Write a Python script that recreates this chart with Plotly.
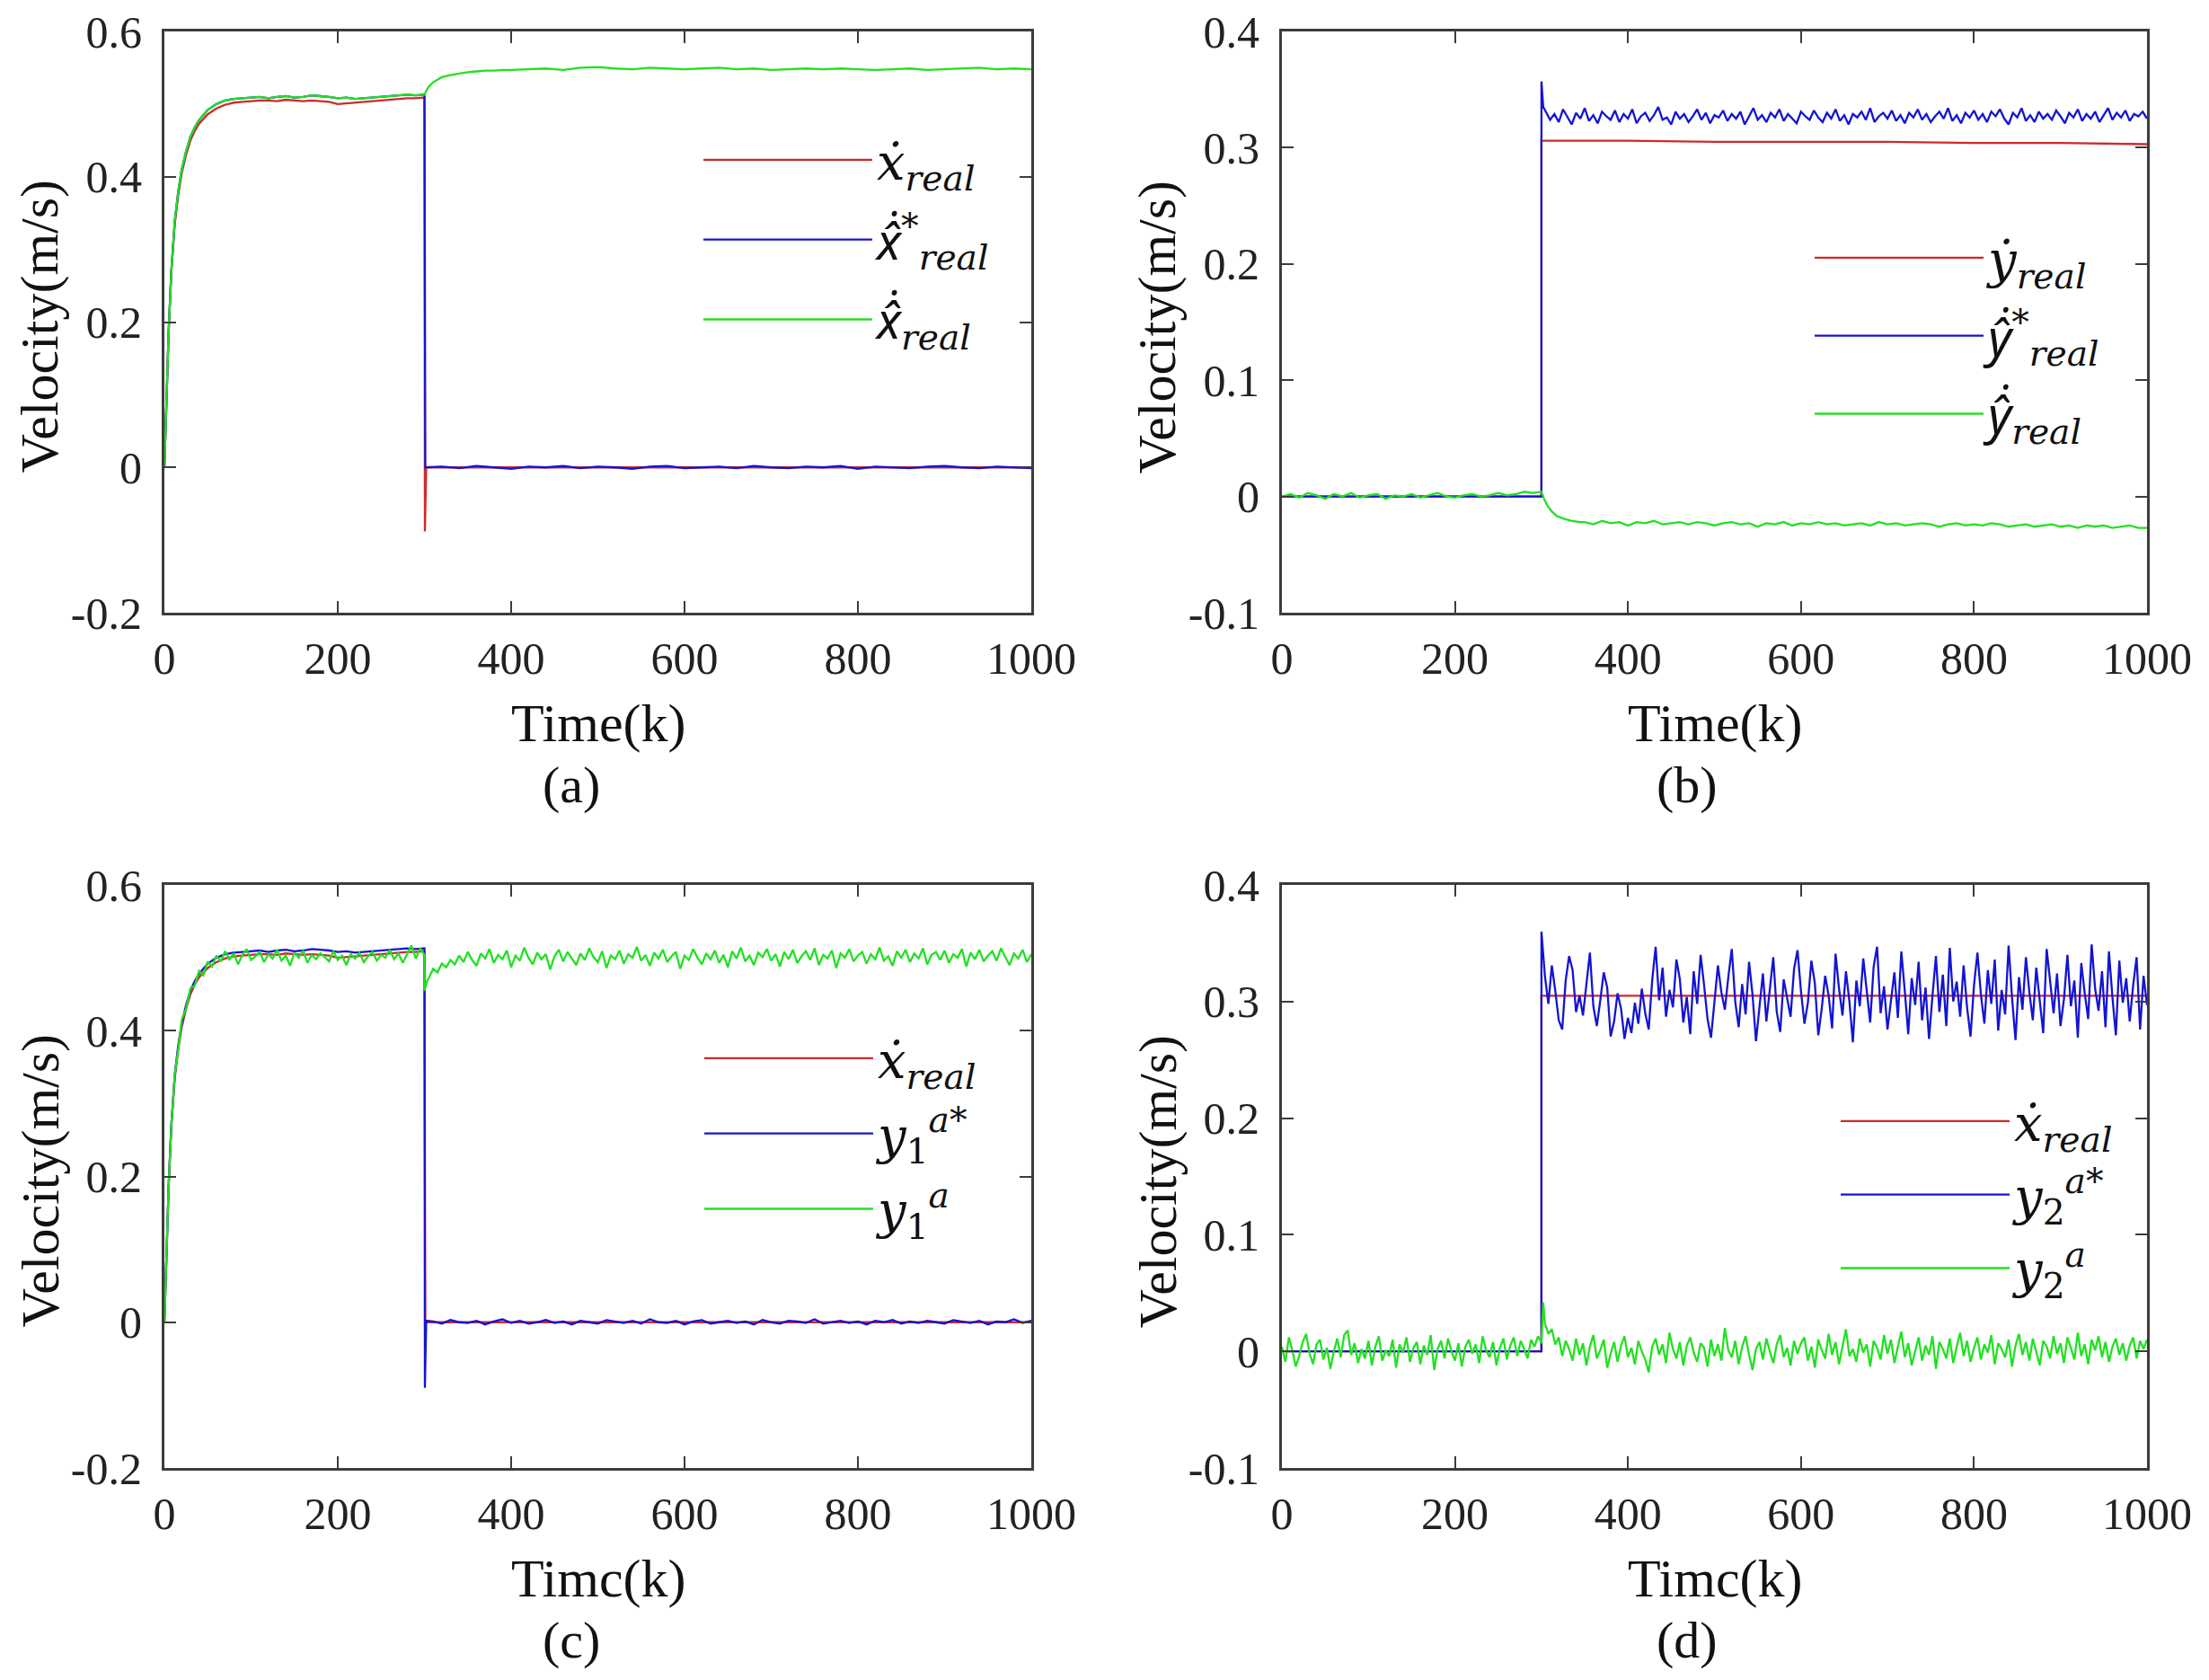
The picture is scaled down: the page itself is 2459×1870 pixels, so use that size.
import plotly.graph_objects as go

# ---------------- data ----------------
RED = "#d02a2a"
BLUE = "#1414d2"
GREEN = "#22e022"

# panel (a)/(c): start-up of the x velocity
A_T_RISE = [0, 2, 5, 8, 12, 16, 20, 25, 30, 35, 40, 50, 60, 70, 80]
A_GREEN_RISE = [0.0, 0.08, 0.19, 0.27, 0.34, 0.38, 0.41, 0.435, 0.455, 0.468, 0.478, 0.492, 0.500, 0.505, 0.507]
A_RED_RISE = [0.0, 0.08, 0.19, 0.27, 0.335, 0.375, 0.405, 0.43, 0.45, 0.463, 0.473, 0.486, 0.494, 0.499, 0.502]
A_T_PLAT = list(range(90, 301, 10))
A_GREEN_PLAT = [0.508, 0.509, 0.510, 0.508, 0.510, 0.511, 0.509, 0.510, 0.512, 0.511, 0.510,
                0.508, 0.509, 0.507, 0.508, 0.509, 0.510, 0.511, 0.512, 0.513, 0.512, 0.513]
A_RED_PLAT = [0.503, 0.504, 0.505, 0.505, 0.504, 0.506, 0.505, 0.504, 0.505, 0.504, 0.503,
              0.500, 0.501, 0.502, 0.503, 0.504, 0.505, 0.506, 0.507, 0.508, 0.508, 0.509]
A_T_GREEN_POST = [300, 302, 305, 310, 315, 320, 330, 340, 350, 360, 370, 380, 390, 400] + list(range(420, 1001, 20))
A_GREEN_POST = [0.513, 0.518, 0.524, 0.530, 0.534, 0.537, 0.540, 0.542, 0.544, 0.545, 0.546, 0.546, 0.547, 0.547,
                0.548, 0.549, 0.547, 0.550, 0.551, 0.549, 0.548, 0.550, 0.549, 0.548,
                0.549, 0.550, 0.548, 0.549, 0.547, 0.548, 0.549, 0.548, 0.549, 0.548,
                0.547, 0.548, 0.549, 0.547, 0.548, 0.549, 0.550, 0.548, 0.549, 0.548]
A_T_RED_POST = [300, 300.5, 302, 1000]
A_RED_POST = [0.509, -0.088, 0.0, 0.0]
A_T_BLUE_POST = [300, 301] + list(range(320, 1001, 20))
A_BLUE_POST = [0.513, 0.0,
               0.001, -0.001, 0.002, 0.000, -0.002, 0.001, 0.000, 0.002, -0.001, 0.001,
               0.000, -0.002, 0.001, 0.002, -0.001, 0.000, 0.001, -0.001, 0.002, 0.000,
               -0.001, 0.001, 0.000, 0.002, -0.002, 0.001, 0.000, -0.001, 0.001, 0.002,
               0.000, -0.001, 0.001, 0.000, -0.001]

# panel (b): y velocity
B_T_RED = [0, 300, 300, 400, 500, 600, 700, 800, 900, 1000]
B_RED = [0.0, 0.0, 0.306, 0.306, 0.305, 0.305, 0.305, 0.304, 0.304, 0.303]
B_T_BLUE = [0, 300, 300, 302] + list(range(305, 1001, 5))
B_BLUE = [0.0, 0.0, 0.357, 0.335,
          0.331, 0.324, 0.329, 0.322, 0.333, 0.326, 0.320, 0.330, 0.325, 0.334,
          0.323, 0.328, 0.321, 0.331, 0.327, 0.324, 0.332, 0.322, 0.329, 0.325,
          0.333, 0.321, 0.327, 0.330, 0.323, 0.328, 0.335, 0.324, 0.326, 0.320,
          0.331, 0.325, 0.329, 0.322, 0.327, 0.333, 0.324, 0.330, 0.321, 0.328,
          0.326, 0.332, 0.323, 0.329, 0.325, 0.331, 0.320, 0.327, 0.334, 0.324,
          0.328, 0.322, 0.330, 0.326, 0.333, 0.323, 0.329, 0.325, 0.321, 0.331,
          0.327, 0.324, 0.332, 0.326, 0.322, 0.330, 0.325, 0.333, 0.323, 0.328,
          0.320, 0.329, 0.326, 0.331, 0.324, 0.334, 0.322, 0.327, 0.330, 0.325,
          0.332, 0.323, 0.328, 0.321, 0.330, 0.326, 0.333, 0.324, 0.329, 0.322,
          0.327, 0.331, 0.325, 0.334, 0.323, 0.328, 0.321, 0.330, 0.326, 0.332,
          0.324, 0.329, 0.322, 0.331, 0.327, 0.333, 0.325, 0.320, 0.330, 0.326,
          0.334, 0.323, 0.328, 0.322, 0.331, 0.325, 0.329, 0.324, 0.332, 0.327,
          0.321, 0.330, 0.326, 0.333, 0.323, 0.329, 0.325, 0.331, 0.322, 0.328,
          0.334, 0.324, 0.330, 0.326, 0.332, 0.323, 0.329, 0.327, 0.331, 0.325]
B_T_GREEN = list(range(0, 301, 10)) + [303, 307, 312, 318, 325, 335, 345] + list(range(350, 1001, 10))
B_GREEN = [0.000, 0.002, -0.001, 0.003, 0.001, -0.002, 0.002, 0.000, 0.003, -0.001,
           0.001, 0.002, -0.002, 0.001, 0.000, 0.002, -0.001, 0.001, 0.003, 0.000,
           -0.001, 0.001, 0.002, 0.000, 0.001, 0.003, 0.001, 0.002, 0.004, 0.003, 0.004,
           -0.002, -0.008, -0.013, -0.017, -0.019, -0.021, -0.022,
           -0.022, -0.024, -0.021, -0.023, -0.022, -0.025, -0.022, -0.023, -0.021, -0.024,
           -0.023, -0.022, -0.024, -0.022, -0.023, -0.025, -0.023, -0.022, -0.024, -0.023,
           -0.026, -0.023, -0.024, -0.022, -0.025, -0.023, -0.024, -0.022, -0.024, -0.023,
           -0.025, -0.024, -0.023, -0.025, -0.022, -0.024, -0.023, -0.025, -0.024, -0.023,
           -0.024, -0.026, -0.024, -0.023, -0.025, -0.024, -0.025, -0.023, -0.024, -0.026,
           -0.025, -0.024, -0.026, -0.025, -0.024, -0.026, -0.025, -0.027, -0.025, -0.026,
           -0.025, -0.027, -0.026, -0.025, -0.027, -0.027]

# panel (c): attacked x channel
C_T_RED_POST = [300, 301, 1000]
C_RED_POST = [0.509, 0.0, 0.0]
C_T_BLUE_POST = [300, 300.5, 302] + list(range(310, 1001, 10))
C_BLUE_POST = [0.513, -0.09, 0.002,
               0.001, -0.002, 0.003, 0.000, -0.001, 0.002, -0.003, 0.001, 0.004, -0.001,
               0.002, -0.002, 0.000, 0.003, -0.001, 0.001, -0.003, 0.002, 0.000, -0.002,
               0.003, 0.001, -0.001, 0.002, -0.002, 0.004, 0.000, -0.001, 0.002, -0.003,
               0.001, 0.003, -0.002, 0.000, 0.002, -0.001, 0.001, -0.003, 0.003, 0.000,
               -0.002, 0.002, 0.001, -0.001, 0.004, -0.002, 0.000, 0.002, -0.001, 0.001,
               -0.003, 0.002, 0.000, 0.003, -0.002, 0.001, -0.001, 0.002, 0.000, -0.002,
               0.003, 0.001, -0.001, 0.002, -0.003, 0.001, 0.000, 0.004, -0.001, 0.002]
C_T_GREEN = [0, 2, 5, 8, 12, 16, 20, 25, 30, 35, 40, 45, 50, 55] + list(range(60, 301, 5)) + [300, 303] + list(range(305, 1001, 5))
C_GREEN = [0.0, 0.08, 0.19, 0.27, 0.34, 0.375, 0.415, 0.43, 0.458, 0.462, 0.482, 0.476, 0.495, 0.488,
           0.503, 0.495, 0.509, 0.498, 0.506, 0.491, 0.504, 0.512, 0.497, 0.502,
           0.508, 0.494, 0.505, 0.499, 0.511, 0.496, 0.503, 0.489, 0.507, 0.500,
           0.510, 0.493, 0.504, 0.498, 0.506, 0.501, 0.495, 0.509, 0.497, 0.503,
           0.490, 0.505, 0.499, 0.507, 0.494, 0.502, 0.508, 0.496, 0.504, 0.500,
           0.511, 0.498, 0.506, 0.493, 0.505, 0.517, 0.499, 0.513, 0.504,
           0.455, 0.468,
           0.472, 0.485, 0.480, 0.492, 0.487, 0.497, 0.491, 0.503, 0.494, 0.508,
           0.497, 0.489, 0.506, 0.499, 0.512, 0.493, 0.504, 0.498, 0.510, 0.487,
           0.503, 0.496, 0.514, 0.500, 0.491, 0.507, 0.498, 0.505, 0.484, 0.502,
           0.511, 0.495, 0.508, 0.499, 0.490, 0.506, 0.497, 0.513, 0.501, 0.494,
           0.509, 0.486, 0.503, 0.498, 0.510, 0.492, 0.505, 0.500, 0.515, 0.496,
           0.504, 0.489, 0.507, 0.499, 0.511, 0.494, 0.502, 0.508, 0.485, 0.503,
           0.497, 0.512, 0.500, 0.491, 0.506, 0.498, 0.510, 0.493, 0.504, 0.487,
           0.509, 0.499, 0.514, 0.495, 0.503, 0.490, 0.507, 0.501, 0.512, 0.496,
           0.505, 0.488, 0.508, 0.498, 0.511, 0.493, 0.502, 0.509, 0.497, 0.513,
           0.490, 0.504, 0.499, 0.510, 0.486, 0.506, 0.500, 0.512, 0.495, 0.503,
           0.508, 0.492, 0.505, 0.498, 0.514, 0.496, 0.502, 0.489, 0.509, 0.500,
           0.511, 0.494, 0.506, 0.499, 0.513, 0.491, 0.504, 0.508, 0.497, 0.510,
           0.493, 0.505, 0.500, 0.512, 0.488, 0.507, 0.498, 0.511, 0.495, 0.503,
           0.509, 0.496, 0.513, 0.501, 0.490, 0.506, 0.499, 0.511, 0.494, 0.505]

# panel (d): attacked y channel
D_T_RED = [0, 300, 300, 1000]
D_RED = [0.0, 0.0, 0.305, 0.305]
D_T_BLUE = [0, 300, 300] + list(range(304, 1001, 4))
D_BLUE = [0.0, 0.0, 0.360,
          0.322, 0.298, 0.331, 0.309, 0.284, 0.276, 0.318, 0.339, 0.327, 0.291,
          0.305, 0.288, 0.315, 0.342, 0.296, 0.279, 0.301, 0.325, 0.312, 0.270,
          0.283, 0.307, 0.294, 0.268, 0.286, 0.273, 0.299, 0.281, 0.311, 0.290,
          0.276, 0.318, 0.347, 0.301, 0.329, 0.287, 0.310, 0.295, 0.336, 0.319,
          0.282, 0.304, 0.272, 0.326, 0.298, 0.340, 0.314, 0.285, 0.269, 0.302,
          0.331, 0.308, 0.293, 0.321, 0.345, 0.300, 0.278, 0.315, 0.289, 0.334,
          0.306, 0.266, 0.297, 0.324, 0.283, 0.312, 0.338, 0.291, 0.274, 0.319,
          0.303, 0.287, 0.328, 0.344, 0.309, 0.281, 0.299, 0.335, 0.316, 0.271,
          0.294, 0.322, 0.305, 0.277, 0.341, 0.311, 0.288, 0.326, 0.300, 0.265,
          0.318, 0.296, 0.337, 0.308, 0.282, 0.330, 0.347, 0.290, 0.313, 0.276,
          0.301, 0.325, 0.286, 0.343, 0.309, 0.272, 0.320, 0.297, 0.334, 0.284,
          0.312, 0.268, 0.305, 0.339, 0.291, 0.323, 0.279, 0.346, 0.300, 0.317,
          0.287, 0.331, 0.295, 0.270, 0.314, 0.342, 0.306, 0.281, 0.327, 0.298,
          0.336, 0.275, 0.310, 0.289, 0.348, 0.303, 0.267, 0.321, 0.293, 0.338,
          0.308, 0.284, 0.329, 0.300, 0.273, 0.345, 0.316, 0.290, 0.324, 0.279,
          0.302, 0.340, 0.296, 0.318, 0.269, 0.333, 0.307, 0.285, 0.349, 0.311,
          0.292, 0.326, 0.278, 0.343, 0.304, 0.271, 0.335, 0.299, 0.320, 0.283,
          0.314, 0.338, 0.276, 0.322, 0.297]
D_T_GREEN = list(range(0, 301, 4)) + [302] + list(range(304, 1001, 4))
D_GREEN = [0.004, -0.009, 0.012, 0.001, -0.013, -0.004, 0.008, 0.015, -0.002, -0.011,
           0.006, 0.010, -0.007, 0.003, -0.015, 0.000, 0.011, -0.005, 0.014, 0.018,
           -0.003, 0.007, -0.010, 0.002, -0.006, 0.009, -0.012, 0.004, 0.013, -0.008,
           0.001, -0.004, 0.010, -0.014, 0.006, -0.001, 0.012, -0.009, 0.003, 0.008,
           -0.011, 0.005, -0.003, 0.014, -0.016, 0.002, 0.009, -0.006, 0.011, 0.000,
           -0.008, 0.007, -0.013, 0.004, 0.010, -0.002, 0.006, -0.010, 0.013, 0.001,
           -0.005, 0.008, -0.012, 0.003, 0.011, -0.007, 0.005, 0.012, -0.004, 0.009,
           0.002, -0.006, 0.010, 0.004, 0.013, 0.007,
           0.042,
           0.024, 0.015, 0.019, 0.006, 0.012, -0.004, 0.009, 0.002, -0.008, 0.011,
           -0.003, 0.007, -0.012, 0.004, 0.014, -0.006, 0.001, 0.010, -0.014, -0.002,
           0.008, -0.009, 0.005, 0.013, -0.005, 0.003, -0.011, 0.009, 0.000, -0.007,
           -0.018, 0.004, 0.011, -0.003, 0.006, -0.010, 0.016, 0.002, -0.006, 0.008,
           -0.012, 0.005, 0.012, -0.001, -0.009, 0.007, 0.003, -0.013, 0.010, -0.004,
           0.006, -0.008, 0.020, 0.001, -0.005, 0.009, -0.011, 0.004, 0.013, -0.003,
           -0.016, 0.002, 0.008, -0.007, 0.011, 0.000, -0.010, 0.006, 0.014, -0.005,
           0.003, -0.012, 0.009, -0.002, 0.007, 0.012, -0.008, 0.004, -0.014, 0.010,
           0.001, -0.006, 0.015, -0.003, 0.008, -0.011, 0.005, 0.019, -0.004, 0.002,
           -0.009, 0.011, -0.001, 0.006, -0.013, 0.009, 0.003, -0.007, 0.014, -0.002,
           0.010, -0.010, 0.004, 0.017, -0.005, 0.007, -0.012, 0.001, 0.012, -0.008,
           0.005, -0.003, 0.013, -0.015, 0.008, 0.002, -0.006, 0.011, -0.010, 0.004,
           0.016, -0.004, 0.009, -0.009, 0.003, 0.012, -0.007, 0.006, -0.001, 0.014,
           -0.011, 0.007, 0.002, -0.005, 0.010, -0.013, 0.005, 0.015, -0.003, 0.008,
           -0.008, 0.011, 0.000, -0.012, 0.009, 0.004, -0.006, 0.013, -0.002, 0.007,
           -0.010, 0.012, 0.003, -0.007, 0.016, -0.004, 0.006, -0.011, 0.010, 0.001,
           0.013, -0.005, 0.008, -0.009, 0.004, 0.011, -0.003, 0.007, -0.008, 0.005,
           0.012, -0.006, 0.009, 0.002, 0.010]

X_TICKS = [0, 200, 400, 600, 800, 1000]
Y_TICKS_AC = [-0.2, 0, 0.2, 0.4, 0.6]
Y_TEXT_AC = ["-0.2", "0", "0.2", "0.4", "0.6"]
Y_TICKS_BD = [-0.1, 0, 0.1, 0.2, 0.3, 0.4]
Y_TEXT_BD = ["-0.1", "0", "0.1", "0.2", "0.3", "0.4"]

# hat + dot glyphs set in a font that stacks combining marks
XHD = "<span style='font-family:Noto Sans'><i>x̂̇</i></span>"
YHD = "<span style='font-family:Noto Sans'><i>ŷ̇</i></span>"
LEG_A = ["<i>ẋ</i><sub><i>real</i></sub>", XHD + "<sup>*</sup><sub><i>real</i></sub>", XHD + "<sub><i>real</i></sub>"]
LEG_B = ["<i>ẏ</i><sub><i>real</i></sub>", YHD + "<sup>*</sup><sub><i>real</i></sub>", YHD + "<sub><i>real</i></sub>"]
LEG_C = ["<i>ẋ</i><sub><i>real</i></sub>", "<i>y</i><sub>1</sub><sup><i>a</i>*</sup>", "<i>y</i><sub>1</sub><sup><i>a</i></sup>"]
LEG_D = ["<i>ẋ</i><sub><i>real</i></sub>", "<i>y</i><sub>2</sub><sup><i>a</i>*</sup>", "<i>y</i><sub>2</sub><sup><i>a</i></sup>"]

FONT = "Liberation Serif, Times New Roman, serif"
MATH_FONT = "DejaVu Serif, serif"
W, H = 2459, 1870
OFF = 8  # page margin of the html body


def px(v):
    return (v - OFF) / W


def py(v):
    return 1 - (v - OFF) / H


fig = go.Figure()


def add(x, y, color, name, ax, leg):
    fig.add_trace(go.Scatter(x=x, y=y, mode="lines", name=name, legendgroup=leg + name,
                             line=dict(color=color, width=2.3),
                             xaxis="x" + ax, yaxis="y" + ax, legend=leg))


# (a)
add(A_T_RISE + A_T_PLAT + A_T_RED_POST, A_RED_RISE + A_RED_PLAT + A_RED_POST, RED, LEG_A[0], "", "legend")
add(A_T_RISE + A_T_PLAT + A_T_BLUE_POST, A_GREEN_RISE + A_GREEN_PLAT + A_BLUE_POST, BLUE, LEG_A[1], "", "legend")
add(A_T_RISE + A_T_PLAT + A_T_GREEN_POST, A_GREEN_RISE + A_GREEN_PLAT + A_GREEN_POST, GREEN, LEG_A[2], "", "legend")
# (b)
add(B_T_RED, B_RED, RED, LEG_B[0], "2", "legend2")
add(B_T_BLUE, B_BLUE, BLUE, LEG_B[1], "2", "legend2")
add(B_T_GREEN, B_GREEN, GREEN, LEG_B[2], "2", "legend2")
# (c)
add(A_T_RISE + A_T_PLAT + C_T_RED_POST, A_RED_RISE + A_RED_PLAT + C_RED_POST, RED, LEG_C[0], "3", "legend3")
add(A_T_RISE + A_T_PLAT + C_T_BLUE_POST, A_GREEN_RISE + A_GREEN_PLAT + C_BLUE_POST, BLUE, LEG_C[1], "3", "legend3")
add(C_T_GREEN, C_GREEN, GREEN, LEG_C[2], "3", "legend3")
# (d)
add(D_T_RED, D_RED, RED, LEG_D[0], "4", "legend4")
add(D_T_BLUE, D_BLUE, BLUE, LEG_D[1], "4", "legend4")
add(D_T_GREEN, D_GREEN, GREEN, LEG_D[2], "4", "legend4")

# panel boxes in page pixels (left, right, top, bottom)
BOX = {"": (183, 1148, 35, 682), "2": (1427, 2390, 35, 682),
       "3": (183, 1148, 985, 1634), "4": (1427, 2390, 985, 1634)}

axis_style = dict(showline=True, mirror="ticks", linecolor="#3c3c3c", linewidth=3,
                  ticks="inside", ticklen=13, tickwidth=2, tickcolor="#3c3c3c",
                  showgrid=False, zeroline=False, automargin=False, ticklabeloverflow="allow",
                  tickfont=dict(family=FONT, size=50, color="#222222"))

layout = {}
for ax, (l, r, t, b) in BOX.items():
    ac = ax in ("", "3")
    layout["xaxis" + ax] = dict(axis_style, domain=[px(l), px(r)], range=[0, 1000],
                                tickvals=X_TICKS, anchor="y" + ax, ticklabelstandoff=5)
    layout["yaxis" + ax] = dict(axis_style, domain=[py(b), py(t)],
                                range=[-0.2, 0.6] if ac else [-0.1, 0.4],
                                tickvals=Y_TICKS_AC if ac else Y_TICKS_BD,
                                ticktext=Y_TEXT_AC if ac else Y_TEXT_BD,
                                anchor="x" + ax, ticklabelstandoff=12)
fig.update_layout(**layout)

# legends: left x of the swatch, top y, gap between rows
LEG_POS = {"legend": (778, 135, 13), "legend2": (2015, 244, 11),
           "legend3": (779, 1135, 8), "legend4": (2044, 1205, 6)}
for name, (lx, ly, gap) in LEG_POS.items():
    fig.update_layout({name: dict(x=px(lx), y=py(ly), xanchor="left", yanchor="top",
                                  bgcolor="rgba(0,0,0,0)", itemwidth=188,
                                  font=dict(family=MATH_FONT, size=56, color="#111111"),
                                  tracegroupgap=gap)})

# axis titles and panel labels
TITLES = [("", "Time(k)", "(a)"), ("2", "Time(k)", "(b)"), ("3", "Timc(k)", "(c)"), ("4", "Timc(k)", "(d)")]
ann = []
for ax, xt, lab in TITLES:
    l, r, t, b = BOX[ax]
    cx = (l + r) / 2
    ann.append(dict(text=xt, x=px(cx), y=py(b + 123), xref="paper", yref="paper",
                    xanchor="center", yanchor="middle", showarrow=False,
                    font=dict(family=FONT, size=60, color="#111111")))
    ann.append(dict(text=lab, x=px(cx - 30), y=py(b + 191), xref="paper", yref="paper",
                    xanchor="center", yanchor="middle", showarrow=False,
                    font=dict(family=FONT, size=58, color="#111111")))
    ann.append(dict(text="Velocity(m/s)", x=px(l - 139), y=py((t + b) / 2 + 5),
                    xref="paper", yref="paper", textangle=-90, showarrow=False,
                    xanchor="center", yanchor="middle",
                    font=dict(family=FONT, size=60, color="#111111")))

fig.update_layout(template="none", width=W, height=H, margin=dict(l=0, r=0, t=0, b=0, autoexpand=False),
                  font=dict(family=FONT), paper_bgcolor="white", plot_bgcolor="white",
                  showlegend=True, annotations=ann)

fig.write_html("out.html")
